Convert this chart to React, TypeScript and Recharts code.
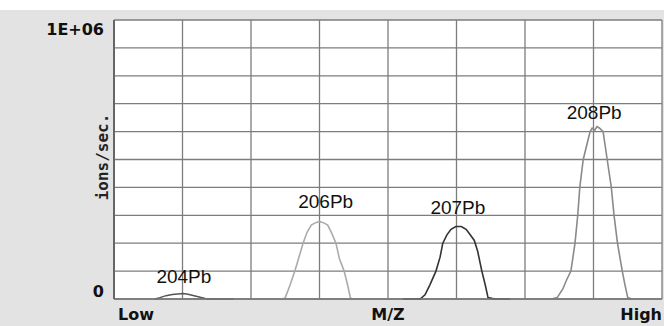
import React from "react";
import { LineChart, Line, XAxis, YAxis, CartesianGrid, ReferenceDot, Label } from "recharts";

const xTicks = [0, 1, 2, 3, 4, 5, 6, 7, 8];
const xTickLabels: Record<number, string> = { 0: "Low", 4: "M/Z", 8: "High" };
const yTicks = [0, 1, 2, 3, 4, 5, 6, 7, 8, 9, 10];
const yTickLabels: Record<number, string> = { 0: "0", 10: "1E+06" };

const peak204 = [
  { x: 0.6, y: 0 }, { x: 0.67, y: 0.05 }, { x: 0.76, y: 0.12 }, { x: 0.85, y: 0.16 },
  { x: 0.93, y: 0.18 }, { x: 1.01, y: 0.2 }, { x: 1.08, y: 0.17 }, { x: 1.17, y: 0.12 },
  { x: 1.26, y: 0.06 }, { x: 1.33, y: 0.02 }, { x: 1.43, y: 0 }, { x: 1.75, y: 0 },
];
const peak206 = [
  { x: 2.47, y: 0 }, { x: 2.5, y: 0.05 }, { x: 2.57, y: 0.5 }, { x: 2.64, y: 1.0 },
  { x: 2.7, y: 1.5 }, { x: 2.76, y: 2.0 }, { x: 2.82, y: 2.4 }, { x: 2.88, y: 2.65 },
  { x: 2.93, y: 2.72 }, { x: 3.0, y: 2.78 }, { x: 3.07, y: 2.72 }, { x: 3.12, y: 2.65 },
  { x: 3.18, y: 2.35 }, { x: 3.24, y: 2.0 }, { x: 3.29, y: 1.45 }, { x: 3.36, y: 1.0 },
  { x: 3.41, y: 0.5 }, { x: 3.45, y: 0.05 }, { x: 3.48, y: 0 },
];
const peak207 = [
  { x: 4.22, y: 0 }, { x: 4.47, y: 0 }, { x: 4.54, y: 0.15 }, { x: 4.61, y: 0.5 },
  { x: 4.7, y: 1.0 }, { x: 4.76, y: 1.5 }, { x: 4.8, y: 2.0 }, { x: 4.86, y: 2.3 },
  { x: 4.92, y: 2.5 }, { x: 4.99, y: 2.6 }, { x: 5.07, y: 2.6 }, { x: 5.14, y: 2.5 },
  { x: 5.2, y: 2.3 }, { x: 5.26, y: 2.1 }, { x: 5.31, y: 1.7 }, { x: 5.37, y: 1.0 },
  { x: 5.42, y: 0.5 }, { x: 5.46, y: 0.05 }, { x: 5.56, y: 0 }, { x: 5.78, y: 0 },
];
const peak208 = [
  { x: 6.39, y: 0 }, { x: 6.47, y: 0.05 }, { x: 6.55, y: 0.35 }, { x: 6.61, y: 0.7 },
  { x: 6.67, y: 1.0 }, { x: 6.73, y: 2.0 }, { x: 6.77, y: 3.0 }, { x: 6.8, y: 4.0 },
  { x: 6.85, y: 5.0 }, { x: 6.91, y: 5.6 }, { x: 6.95, y: 6.0 }, { x: 6.98, y: 6.12 },
  { x: 7.02, y: 6.05 }, { x: 7.05, y: 6.18 }, { x: 7.09, y: 6.12 }, { x: 7.14, y: 6.0 },
  { x: 7.2, y: 5.0 }, { x: 7.26, y: 4.0 }, { x: 7.3, y: 3.0 }, { x: 7.35, y: 2.0 },
  { x: 7.42, y: 1.0 }, { x: 7.46, y: 0.5 }, { x: 7.5, y: 0.05 }, { x: 7.56, y: 0 },
];
const peakLabels = [
  { name: "204Pb", x: 1.02, y: 0.57 },
  { name: "206Pb", x: 3.09, y: 3.26 },
  { name: "207Pb", x: 5.02, y: 3.05 },
  { name: "208Pb", x: 7.01, y: 6.45 },
];

const boldFont = "'DejaVu Sans', sans-serif";

const XTick = (props: any) => {
  const { x, payload } = props;
  const v = payload.value;
  const t = xTickLabels[v];
  if (!t) return null;
  const anchor = v === 0 ? "start" : v === 8 ? "end" : "middle";
  const dx = v === 0 ? 4 : v === 8 ? 2 : 0;
  return (
    <text x={x + dx} y={320} textAnchor={anchor} fontFamily={boldFont} fontWeight="bold" fontSize={16} fill="#111">
      {t}
    </text>
  );
};

const YTick = (props: any) => {
  const { y, payload } = props;
  const v = payload.value;
  const t = yTickLabels[v];
  if (!t) return null;
  const dy = v === 10 ? 15 : -2;
  return (
    <text x={104} y={y + dy} textAnchor="end" fontFamily={boldFont} fontWeight="bold" fontSize={16} fill="#111">
      {t}
    </text>
  );
};

export default function App() {
  return (
    <div
      style={{
        position: "absolute",
        left: 0,
        top: 0,
        width: 664,
        height: 326,
        background: "linear-gradient(#ffffff 0px, #ffffff 10px, #e3e3e3 10px, #e3e3e3 100%)",
      }}
    >
      <LineChart width={664} height={326} margin={{ top: 20, right: 2, bottom: 0, left: 0 }}>
        <CartesianGrid fill="#ffffff" stroke="#7d7d7d" strokeWidth={1.3} />
        <XAxis
          type="number"
          dataKey="x"
          domain={[0, 8]}
          ticks={xTicks}
          tick={<XTick />}
          tickLine={false}
          axisLine={{ stroke: "#777", strokeWidth: 1.5 }}
          height={27}
          allowDataOverflow
        />
        <YAxis
          type="number"
          domain={[0, 10]}
          ticks={yTicks}
          tick={<YTick />}
          tickLine={false}
          axisLine={{ stroke: "#666", strokeWidth: 2 }}
          width={114}
          interval={0}
        >
          <Label
            content={() => (
              <text
                x={102}
                y={157}
                transform="rotate(-90 102 157)"
                textAnchor="middle"
                dominantBaseline="central"
                fontFamily="'DejaVu Sans Mono', monospace"
                fontWeight="bold"
                fontSize={16}
                fill="#222"
              >
                ions/sec.
              </text>
            )}
          />
        </YAxis>
        <Line data={peak204} dataKey="y" type="linear" stroke="#555" strokeWidth={1.5} dot={false} isAnimationActive={false} />
        <Line data={peak206} dataKey="y" type="linear" stroke="#ababab" strokeWidth={1.6} dot={false} isAnimationActive={false} />
        <Line data={peak207} dataKey="y" type="linear" stroke="#333" strokeWidth={1.6} dot={false} isAnimationActive={false} />
        <Line data={peak208} dataKey="y" type="linear" stroke="#8a8a8a" strokeWidth={1.6} dot={false} isAnimationActive={false} />
        {peakLabels.map((p) => (
          <ReferenceDot
            key={p.name}
            x={p.x}
            y={p.y}
            r={0}
            shape={(props: any) => (
              <text
                x={props.cx}
                y={props.cy}
                textAnchor="middle"
                fontFamily="'Liberation Sans', Arial, sans-serif"
                fontSize={19}
                fill="#111"
              >
                {p.name}
              </text>
            )}
          />
        ))}
      </LineChart>
    </div>
  );
}
